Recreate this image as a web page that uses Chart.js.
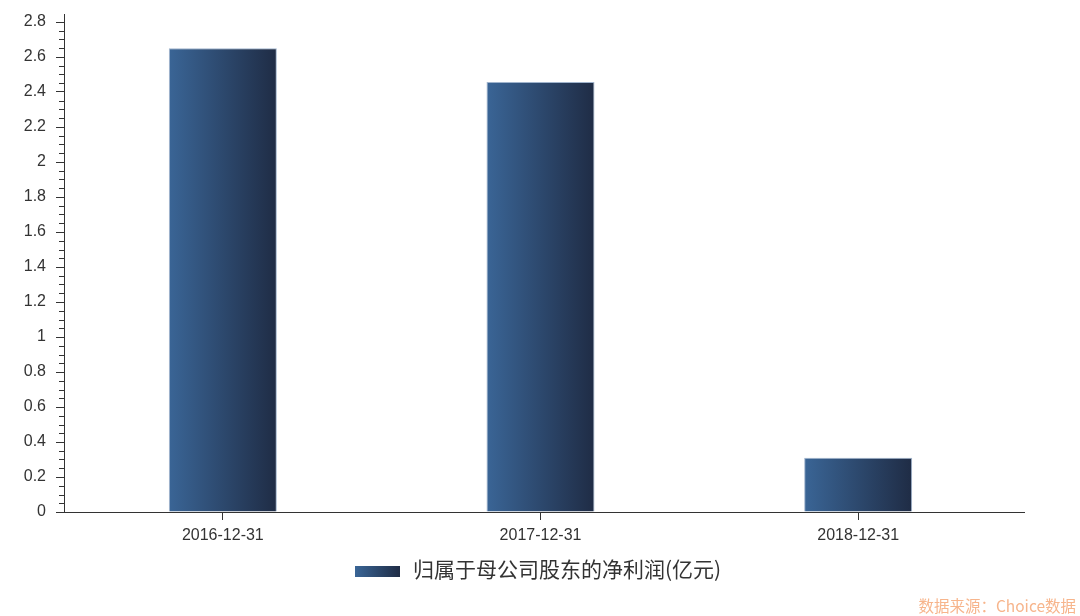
<!DOCTYPE html>
<html>
<head>
<meta charset="utf-8">
<script src="https://cdn.jsdelivr.net/npm/chart.js@4"></script>
<style>
  html, body { margin: 0; padding: 0; background: #fff; }
  #wrap { width: 1080px; height: 616px; position: relative; }
</style>
</head>
<body>
<div id="wrap"><canvas id="chartOne"></canvas></div>
<script>
var categories = ['2016-12-31', '2017-12-31', '2018-12-31'];
var profitValues = [2.65, 2.457, 0.31];
var seriesName = '归属于母公司股东的净利润(亿元)';
var sourceText = '数据来源：Choice数据';

var axisColor = '#333333';
var textColor = '#333333';
var gradLeft = '#3a6596';
var gradRight = '#1f2c45';

function barGradient(ctx, x0, x1) {
    var g = ctx.createLinearGradient(x0, 0, x1, 0);
    g.addColorStop(0, gradLeft);
    g.addColorStop(1, gradRight);
    return g;
}

// per-bar horizontal gradient, minor ticks, axis extensions, legend and source note
var extras = {
    id: 'extras',
    beforeDatasetsDraw: function (chart) {
        var ctx = chart.ctx;
        chart.getDatasetMeta(0).data.forEach(function (bar) {
            // options objects are shared between bars, so give each its own copy
            bar.options = Object.assign({}, bar.options, {
                backgroundColor: barGradient(ctx, bar.x - bar.width / 2, bar.x + bar.width / 2)
            });
        });
    },
    afterDraw: function (chart) {
        var ctx = chart.ctx;
        var y = chart.scales.y;
        var area = chart.chartArea;
        ctx.save();
        ctx.strokeStyle = axisColor;
        ctx.lineWidth = 1;
        ctx.beginPath();
        for (var i = 0; i <= 56; i++) {
            if (i % 4 === 0) continue;
            var py = Math.round(y.getPixelForValue(i * 0.05)) + 0.5;
            ctx.moveTo(area.left - 5, py);
            ctx.lineTo(area.left, py);
        }
        // axis line extensions
        ctx.moveTo(area.left + 0.5, area.top - 8);
        ctx.lineTo(area.left + 0.5, area.top);
        ctx.moveTo(area.right, area.bottom + 0.5);
        ctx.lineTo(area.right + 8, area.bottom + 0.5);
        ctx.stroke();

        // legend
        ctx.fillStyle = barGradient(ctx, 355, 400);
        ctx.fillRect(355, 566, 45, 11);
        ctx.fillStyle = textColor;
        ctx.font = '21px "Noto Sans CJK SC", "Liberation Sans", sans-serif';
        ctx.textBaseline = 'middle';
        ctx.textAlign = 'left';
        ctx.fillText(seriesName, 413, 569);

        // source note
        ctx.fillStyle = '#f7b58c';
        ctx.font = '15.5px "Noto Sans CJK SC", "Liberation Sans", sans-serif';
        ctx.textAlign = 'right';
        ctx.textBaseline = 'alphabetic';
        ctx.fillText(sourceText, 1076, 612);
        ctx.restore();
    }
};

var chartOne = document.getElementById('chartOne');
var myChart = new Chart(chartOne, {
    type: 'bar',
    data: {
        labels: categories,
        datasets: [{
            label: seriesName,
            data: profitValues,
            backgroundColor: gradLeft,
            borderColor: 'rgba(150,172,200,0.9)',
            borderWidth: 1,
            categoryPercentage: 1,
            barPercentage: 0.34
        }]
    },
    options: {
        responsive: true,
        maintainAspectRatio: false,
        animation: false,
        layout: { padding: { top: 22, right: 63, bottom: 0, left: 0 } },
        plugins: {
            legend: { display: false },
            tooltip: { enabled: false }
        },
        scales: {
            x: {
                afterFit: function (scale) { scale.height = 104; },
                border: { color: axisColor, width: 1 },
                grid: { drawOnChartArea: false, offset: false, tickLength: 8, tickColor: axisColor },
                ticks: { color: textColor, padding: 6, font: { family: '"Liberation Sans", Arial, sans-serif', size: 16 } }
            },
            y: {
                min: 0,
                max: 2.8,
                afterFit: function (scale) { scale.width = 64; },
                border: { color: axisColor, width: 1 },
                grid: { drawOnChartArea: false, tickLength: 8, tickColor: axisColor },
                ticks: {
                    stepSize: 0.2,
                    color: textColor,
                    padding: 10,
                    font: { family: '"Liberation Sans", Arial, sans-serif', size: 16 },
                    callback: function (value) { return String(Number(value.toFixed(1))); }
                }
            }
        }
    },
    plugins: [extras]
});
</script>
</body>
</html>
